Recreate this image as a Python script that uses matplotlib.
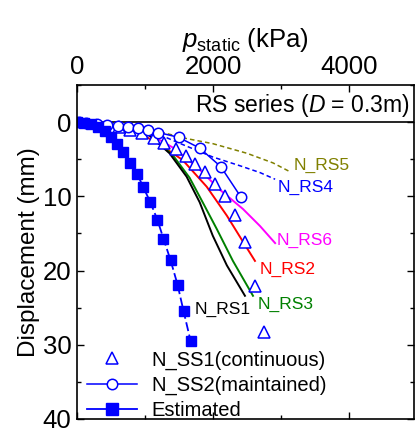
import matplotlib
matplotlib.use("Agg")
import matplotlib.pyplot as plt
from matplotlib.ticker import MultipleLocator
from matplotlib.lines import Line2D

plt.rcParams['font.family'] = ['Liberation Sans', 'DejaVu Sans']
plt.rcParams['mathtext.fontset'] = 'custom'
plt.rcParams['mathtext.rm'] = 'Liberation Sans'
plt.rcParams['mathtext.it'] = 'Liberation Sans:italic'

# ---- data (p_static in kPa, displacement in mm) ----
rs1_p = [0, 473, 768, 1064, 1359, 1610, 1802, 1994, 2201, 2467]
rs1_d = [0, 0.26, 0.73, 1.8, 4.2, 7.35, 10.8, 15.3, 19.3, 23.4]

rs3_p = [0, 473, 768, 1064, 1403, 1654, 1846, 2053, 2290, 2585]
rs3_d = [0, 0.26, 0.73, 1.8, 4.4, 7.5, 10.8, 14.4, 18.7, 23.4]

rs2_p = [0, 400, 768, 1167, 1551, 1905, 2201, 2437, 2614]
rs2_d = [0, 0.25, 0.86, 2.7, 5.1, 8.7, 12.6, 16.1, 18.7]

rs6_p = [0, 620, 1019, 1403, 1758, 2097, 2437, 2688, 2910]
rs6_d = [0, 0.46, 1.4, 3.4, 6.0, 9.1, 11.7, 14.0, 16.3]

rs4_p = [0, 620, 1064, 1507, 1994, 2400, 2688, 2910]
rs4_d = [0, 0.46, 1.1, 2.85, 4.7, 5.9, 6.8, 7.7]

rs5_p = [0, 768, 1256, 1600, 1994, 2496, 2880, 3131]
rs5_d = [0, 0.5, 1.4, 2.2, 2.9, 4.2, 5.5, 6.7]

ss1_p = [620, 783, 960, 1137, 1285, 1448, 1595, 1728, 1876, 2024, 2171, 2319, 2467, 2614, 2747]
ss1_d = [0.7, 1.1, 1.5, 2.2, 2.85, 3.6, 4.6, 5.6, 6.7, 8.3, 10.0, 12.5, 16.2, 22.1, 28.3]

ss2_p = [30, 133, 295, 443, 606, 753, 901, 1049, 1196, 1492, 1802, 2112, 2408]
ss2_d = [0, 0.07, 0.2, 0.33, 0.46, 0.6, 0.86, 1.13, 1.4, 2.05, 3.5, 6.0, 10.1]

est_p = [0, 100, 200, 310, 414, 502, 591, 680, 783, 886, 975, 1078, 1182, 1270, 1374, 1477, 1566, 1669]
est_d = [0, 0.1, 0.3, 0.7, 1.26, 2.05, 3.0, 4.0, 5.5, 7.0, 8.8, 10.8, 13.2, 15.7, 18.6, 21.9, 25.5, 29.5]

curve_labels = ['N_RS1', 'N_RS2', 'N_RS3', 'N_RS4', 'N_RS5', 'N_RS6']
label_pos = {'N_RS1': (1728, 25.2), 'N_RS2': (2688, 19.8), 'N_RS3': (2659, 24.6),
             'N_RS4': (2954, 8.8), 'N_RS5': (3176, 5.8), 'N_RS6': (2939, 16.0)}

fig = plt.figure(figsize=(4.16, 4.32), dpi=100)
ax = fig.add_axes([77/416, 1-419/432, (414-77)/416, (419-85)/432])

blue = '#0000FF'
lw = 1.4
ax.plot(rs5_p, rs5_d, color='#808000', ls=(0, (3, 2)), lw=1.1)
ax.plot(rs4_p, rs4_d, color=blue, ls=(0, (3, 2)), lw=1.1)
ax.plot(rs6_p, rs6_d, color='#FF00FF', lw=lw)
ax.plot(rs2_p, rs2_d, color='#FF0000', lw=lw)
ax.plot(rs3_p, rs3_d, color='#008000', lw=lw)
ax.plot(rs1_p, rs1_d, color='black', lw=lw)

h1, = ax.plot(ss1_p, ss1_d, ls='none', marker='^', ms=8.5, mfc='white', mec=blue,
              mew=1.1, label='N_SS1(continuous)')
h2, = ax.plot(ss2_p, ss2_d, ls='-', color=blue, lw=1.1, marker='o', ms=7.5, mfc='white',
              mec=blue, mew=1.1, label='N_SS2(maintained)')
ax.plot(est_p, est_d, ls=(0, (5, 2)), color=blue, lw=1.3, marker='s', ms=6.5,
        mfc=blue, mec=blue)
h3 = Line2D([], [], ls='-', color=blue, lw=1.3, marker='s', ms=8, mfc=blue, mec=blue,
            label='Estimated')

ax.axhline(0, color='black', lw=1.2, zorder=1)

label_colors = {'N_RS1': 'black', 'N_RS2': '#FF0000', 'N_RS3': '#008000',
                'N_RS4': blue, 'N_RS5': '#808000', 'N_RS6': '#FF00FF'}
for name in curve_labels:
    x, y = label_pos[name]
    ax.text(x, y, name, color=label_colors[name], fontsize=12.5, ha='left', va='center')

ax.text(4890, -2.3, r'RS series ($D$ = 0.3m)', fontsize=16.5, ha='right', va='center')

ax.set_xlim(0, 4950)
ax.set_ylim(40, -5)
ax.xaxis.set_major_locator(MultipleLocator(2000))
ax.xaxis.set_minor_locator(MultipleLocator(1000))
ax.yaxis.set_major_locator(MultipleLocator(10))
ax.yaxis.set_minor_locator(MultipleLocator(5))
ax.xaxis.tick_top()
ax.xaxis.set_label_position('top')
ax.tick_params(which='both', direction='in', top=True, bottom=True, left=True, right=True,
               labeltop=True, labelbottom=False, labelleft=True, labelright=False,
               labelsize=18.5, width=1.0)
ax.tick_params(which='major', length=5, pad=4)
ax.tick_params(which='minor', length=3)
for s in ax.spines.values():
    s.set_linewidth(1.2)

ax.set_xlabel(r'$p_{\mathrm{static}}$ (kPa)', fontsize=18.5, labelpad=6)
ax.set_ylabel('Displacement (mm)', fontsize=17.5, labelpad=2)

ax.legend(handles=[h1, h2, h3], loc='upper left', bbox_to_anchor=(0.03, 0.205),
          frameon=False, fontsize=14.5, handlelength=2.5, handletextpad=0.7,
          labelspacing=0.3, borderpad=0, borderaxespad=0)

fig.savefig('out.png', dpi=100)
